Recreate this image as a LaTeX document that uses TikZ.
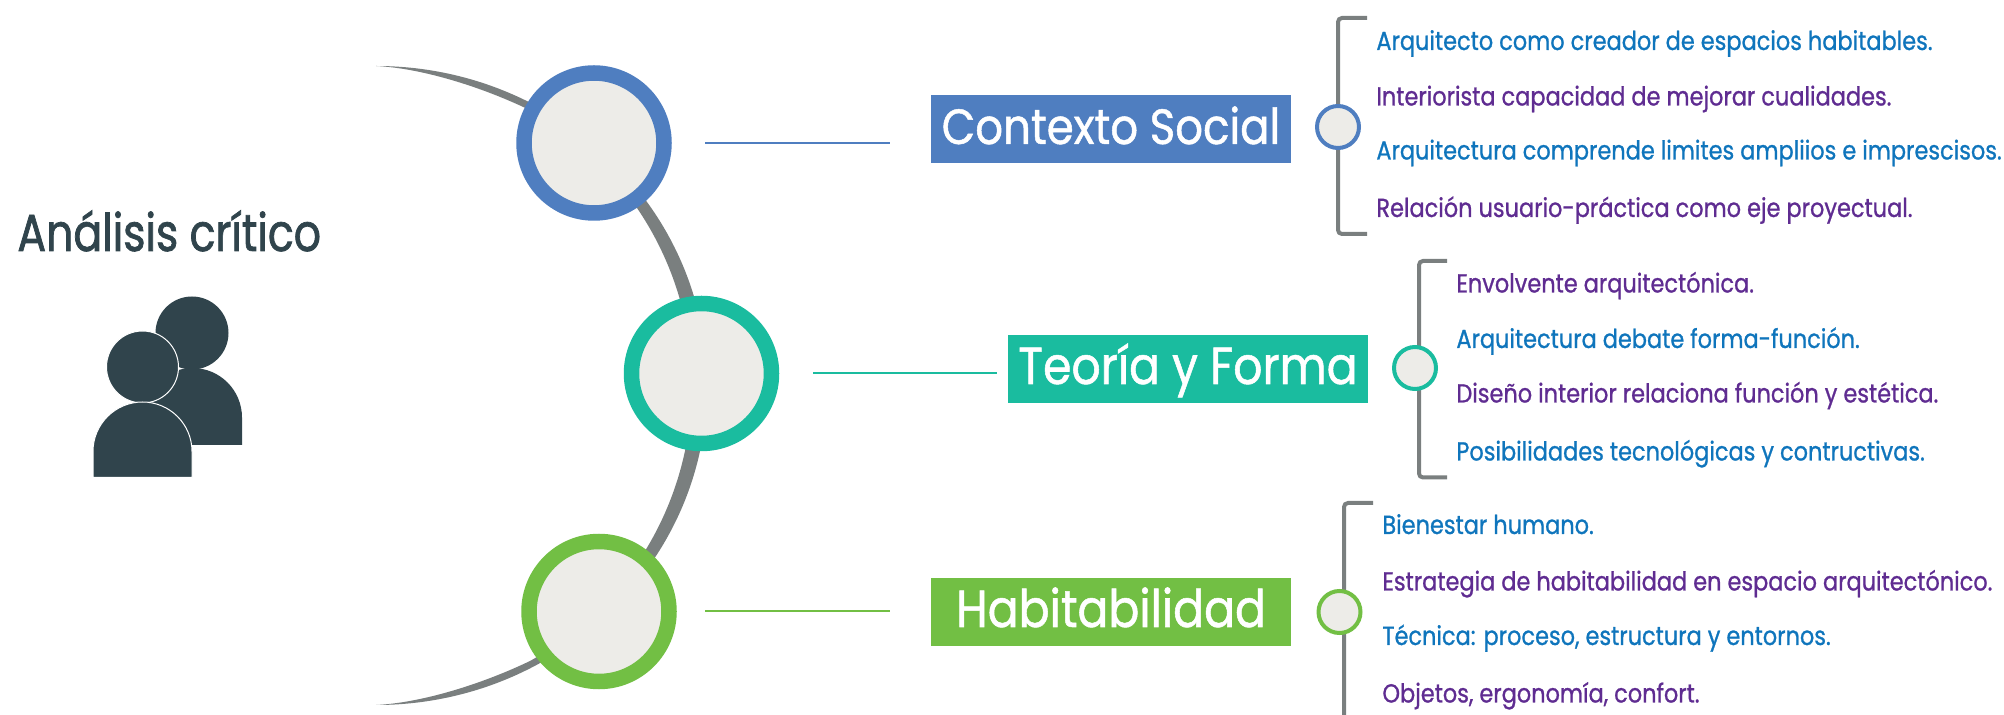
\documentclass[tikz,border=0pt]{standalone}
\usepackage{fontspec}
\setmainfont[FakeStretch=0.86,FakeBold=0.9]{Poppins}
\newfontfamily\headfont[FakeStretch=0.82,FakeBold=1.4]{Poppins}
\newfontfamily\boxfont[FakeStretch=0.88,FakeBold=1.0]{Poppins}
\definecolor{cblue}{HTML}{4F7EC0}
\definecolor{cteal}{HTML}{1ABC9F}
\definecolor{cgreen}{HTML}{72BF44}
\definecolor{cfill}{HTML}{EDECE8}
\definecolor{cgray}{HTML}{7A7F7F}
\definecolor{cdark}{HTML}{30444C}
\definecolor{tblue}{HTML}{0F75BC}
\definecolor{tpurple}{HTML}{5F2C91}
\tikzset{
 x=0.5pt,y=-0.5pt,
 bigring/.style={circle,draw=#1,fill=cfill,line width=7.75pt,minimum size=70pt,inner sep=0pt},
 smallring/.style={circle,draw=#1,fill=cfill,line width=2pt,minimum size=21pt,inner sep=0pt},
 titlebox/.style={rectangle,fill=#1,text=white,minimum width=180pt,inner sep=0pt,text height=24.5pt,text depth=9.5pt,font=\boxfont\fontsize{25}{28}\selectfont},
 item/.style={anchor=base west,inner sep=0pt,text=#1,font=\fontsize{13.05}{14}\selectfont},
 bracket/.style={draw=cgray,line width=2pt,rounded corners=2pt},
 link/.style={line width=1pt,draw=#1},
}
\begin{document}
\begin{tikzpicture}
\useasboundingbox (0,0) rectangle (2004,715);
% crescent
\fill[cgray] (376,66) arc[start angle=-90,end angle=90,x radius=331,y radius=319.5]
  .. controls (420,703) and (480,685) .. (530,661)
  arc[start angle=60.8,end angle=-60.8,x radius=316,y radius=315.5]
  .. controls (480,86) and (420,68) .. (376,66) -- cycle;
% big rings
\node[bigring=cblue] (r1) at (594,143) {};
\node[bigring=cteal] (r2) at (701.5,373.5) {};
\node[bigring=cgreen] (r3) at (599,611.5) {};
% title
\node[anchor=base west,inner sep=0pt,text=cdark,font=\headfont\fontsize{26}{30}\selectfont] (title) at (17,251) {Análisis crítico};
% people
\fill[cdark] (192,333) circle[radius=36.5];
\fill[cdark] (143,445) -- (143,417.5) arc[start angle=180,end angle=360,radius=49.5] -- (242,445) -- cycle;
\fill[cdark,draw=white,line width=0.5pt] (142.5,367) circle[radius=36];
\fill[cdark,draw=white,line width=0.5pt] (93,477.5) -- (93,451.5) arc[start angle=180,end angle=360,radius=49.5] -- (192,477.5) -- cycle;
% title boxes
\node[titlebox=cblue] (b1) at (1111,129) {\fontsize{24.7}{28}\selectfont Contexto Social};
\node[titlebox=cteal] (b2) at (1188,369) {\fontsize{26}{28}\selectfont Teoría y Forma};
\node[titlebox=cgreen] (b3) at (1111,612) {\fontsize{26}{28}\selectfont Habitabilidad};
% links
\coordinate (l1a) at (705,143); \coordinate (l1b) at (890,143);
\coordinate (l2a) at (813,373.5); \coordinate (l2b) at (997,373.5);
\coordinate (l3a) at (705,611.5); \coordinate (l3b) at (890,611.5);
\draw[link=cblue] (l1a) -- (l1b);
\draw[link=cteal] (l2a) -- (l2b);
\draw[link=cgreen] (l3a) -- (l3b);
% brackets
\coordinate (k1a) at (1367,18); \coordinate (k1b) at (1338,18); \coordinate (k1c) at (1338,234); \coordinate (k1d) at (1367,234);
\draw[bracket] (k1a) -- (k1b) -- (k1c) -- (k1d);
\coordinate (k2a) at (1447,261); \coordinate (k2b) at (1419,261); \coordinate (k2c) at (1419,477.5); \coordinate (k2d) at (1447,477.5);
\draw[bracket] (k2a) -- (k2b) -- (k2c) -- (k2d);
\coordinate (k3a) at (1373,503); \coordinate (k3b) at (1344,503); \coordinate (k3c) at (1344,715);
\draw[bracket] (k3a) -- (k3b) -- (k3c);
\node[smallring=cblue] (s1) at (1338,127) {};
\node[smallring=cteal] (s2) at (1415,368) {};
\node[smallring=cgreen] (s3) at (1339.5,612) {};
% items
\node[item=tblue] (a1) at (1376,50) {Arquitecto como creador de espacios habitables.};
\node[item=tpurple] (a2) at (1376,105.5) {Interiorista capacidad de mejorar cualidades.};
\node[item=tblue] (a3) at (1376,159.5) {Arquitectura comprende limites ampliios e imprescisos.};
\node[item=tpurple] (a4) at (1376,217) {Relación usuario-práctica como eje proyectual.};
\node[item=tpurple] (c1) at (1456,292.5) {Envolvente arquitectónica.};
\node[item=tblue] (c2) at (1456,348) {Arquitectura debate forma-función.};
\node[item=tpurple] (c3) at (1456,402.5) {Diseño interior relaciona función y estética.};
\node[item=tblue] (c4) at (1456,460.5) {Posibilidades tecnológicas y contructivas.};
\node[item=tblue] (d1) at (1382,534) {Bienestar humano.};
\node[item=tpurple] (d2) at (1382,590.5) {Estrategia de habitabilidad en espacio arquitectónico.};
\node[item=tblue] (d3) at (1382,645) {Técnica: proceso, estructura y entornos.};
\node[item=tpurple] (d4) at (1382,702.5) {Objetos, ergonomía, confort.};
\end{tikzpicture}
\end{document}
